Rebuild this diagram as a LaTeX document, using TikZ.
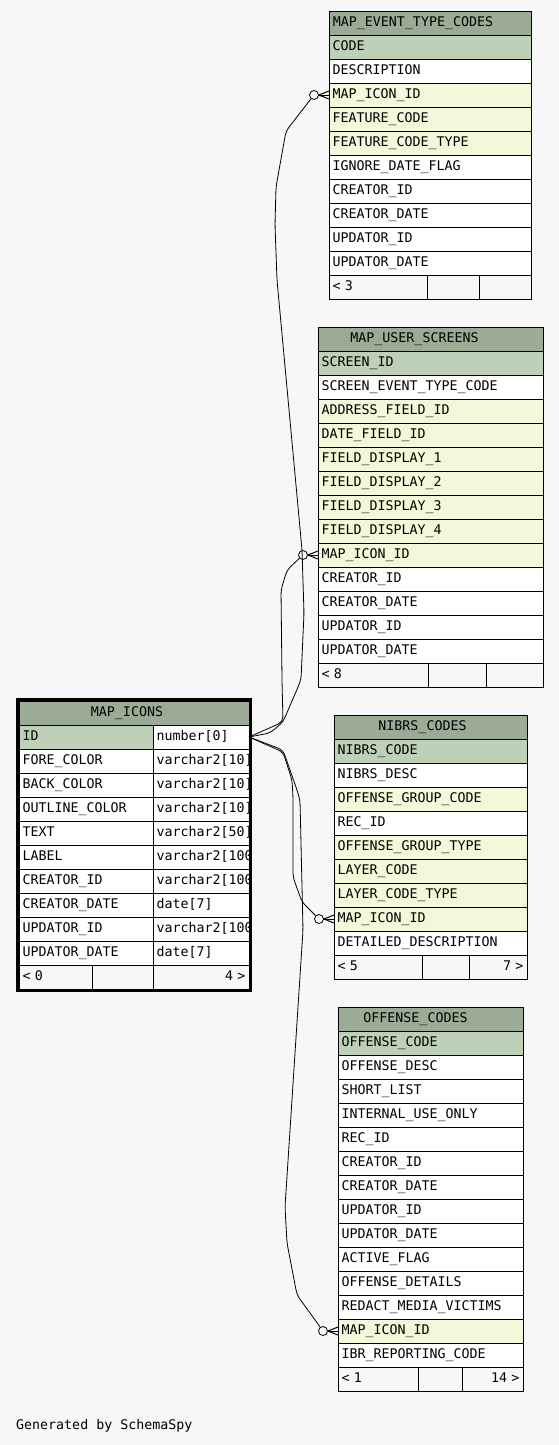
\documentclass[tikz,border=0pt]{standalone}
\usepackage{fontspec}
\usepackage{tikz}
\newfontfamily\schemafont[HyphenChar=None]{DejaVu Sans Mono}
\newcommand\erdfont{\schemafont\fontsize{13.3pt}{16pt}\selectfont}
\definecolor{pagebg}{HTML}{F7F7F7}
\definecolor{headbg}{HTML}{9BAB96}
\definecolor{keybg}{HTML}{BED1B8}
\definecolor{idxbg}{HTML}{F4F7DA}
\tikzset{
  cellbox/.style={draw, anchor=north west, minimum height=24pt, inner xsep=3.5pt, inner ysep=0pt,
    outer sep=0pt, text width=#1, align=left, text height=9.5pt, text depth=2.5pt},
  titletext/.style={inner sep=0pt, text height=9.5pt, text depth=2.5pt},
  odot/.style={circle, draw, line width=0.8pt, minimum size=9pt, inner sep=0pt},
  relline/.style={draw, line width=0.8pt, rounded corners=5pt},
  crowline/.style={draw, line width=1pt},
}

\begin{document}
\begin{tikzpicture}[x=1pt, y=-1pt, every node/.style={font=\erdfont}]
  \fill[pagebg] (0,0) rectangle (559,1445);
  \useasboundingbox (0,0) rectangle (559,1445);

  % MAP_EVENT_TYPE_CODES
  \node[cellbox=195pt, fill=headbg] (met-0) at (329,11) {};
  \node[titletext] (met-title) at ([xshift=-17pt]met-0.center) {MAP\_EVENT\_TYPE\_CODES};
  \foreach \bg/\col [count=\i] in {keybg/CODE, white/DESCRIPTION, idxbg/MAP\_ICON\_ID,
      idxbg/FEATURE\_CODE, idxbg/FEATURE\_CODE\_TYPE, white/IGNORE\_DATE\_FLAG,
      white/CREATOR\_ID, white/CREATOR\_DATE, white/UPDATOR\_ID, white/UPDATOR\_DATE}
    \node[cellbox=195pt, fill=\bg] (met-\i) at (329,11+24*\i) {\col};
  \node[cellbox=91pt, fill=pagebg] (met-f1) at (329,275) {< 3};
  \node[cellbox=45pt, fill=pagebg] (met-f2) at (427,275) {};
  \node[cellbox=45pt, fill=pagebg] (met-f3) at (479,275) {};

  % MAP_USER_SCREENS
  \node[cellbox=218pt, fill=headbg] (mus-0) at (318,327) {};
  \node[titletext] (mus-title) at ([xshift=-16pt]mus-0.center) {MAP\_USER\_SCREENS};
  \foreach \bg/\col [count=\i] in {keybg/SCREEN\_ID, white/SCREEN\_EVENT\_TYPE\_CODE,
      idxbg/ADDRESS\_FIELD\_ID, idxbg/DATE\_FIELD\_ID, idxbg/FIELD\_DISPLAY\_1,
      idxbg/FIELD\_DISPLAY\_2, idxbg/FIELD\_DISPLAY\_3, idxbg/FIELD\_DISPLAY\_4,
      idxbg/MAP\_ICON\_ID, white/CREATOR\_ID, white/CREATOR\_DATE, white/UPDATOR\_ID,
      white/UPDATOR\_DATE}
    \node[cellbox=218pt, fill=\bg] (mus-\i) at (318,327+24*\i) {\col};
  \node[cellbox=103pt, fill=pagebg] (mus-f1) at (318,663) {< 8};
  \node[cellbox=51pt, fill=pagebg] (mus-f2) at (428,663) {};
  \node[cellbox=50pt, fill=pagebg] (mus-f3) at (486,663) {};

  % NIBRS_CODES
  \node[cellbox=186pt, fill=headbg] (nib-0) at (334,715) {};
  \node[titletext] (nib-title) at ([xshift=-8pt]nib-0.center) {NIBRS\_CODES};
  \foreach \bg/\col [count=\i] in {keybg/NIBRS\_CODE, white/NIBRS\_DESC,
      idxbg/OFFENSE\_GROUP\_CODE, white/REC\_ID, idxbg/OFFENSE\_GROUP\_TYPE,
      idxbg/LAYER\_CODE, idxbg/LAYER\_CODE\_TYPE, idxbg/MAP\_ICON\_ID,
      white/DETAILED\_DESCRIPTION}
    \node[cellbox=186pt, fill=\bg] (nib-\i) at (334,715+24*\i) {\col};
  \node[cellbox=81pt, fill=pagebg] (nib-f1) at (334,955) {< 5};
  \node[cellbox=40pt, fill=pagebg] (nib-f2) at (422,955) {};
  \node[cellbox=51pt, fill=pagebg, align=right] (nib-f3) at (469,955) {7 >};

  % OFFENSE_CODES
  \node[cellbox=178pt, fill=headbg] (off-0) at (338,1007) {};
  \node[titletext] (off-title) at ([xshift=-15pt]off-0.center) {OFFENSE\_CODES};
  \foreach \bg/\col [count=\i] in {keybg/OFFENSE\_CODE, white/OFFENSE\_DESC,
      white/SHORT\_LIST, white/INTERNAL\_USE\_ONLY, white/REC\_ID, white/CREATOR\_ID,
      white/CREATOR\_DATE, white/UPDATOR\_ID, white/UPDATOR\_DATE, white/ACTIVE\_FLAG,
      white/OFFENSE\_DETAILS, white/REDACT\_MEDIA\_VICTIMS, idxbg/MAP\_ICON\_ID,
      white/IBR\_REPORTING\_CODE}
    \node[cellbox=178pt, fill=\bg] (off-\i) at (338,1007+24*\i) {\col};
  \node[cellbox=73pt, fill=pagebg] (off-f1) at (338,1367) {< 1};
  \node[cellbox=37pt, fill=pagebg] (off-f2) at (418,1367) {};
  \node[cellbox=54pt, fill=pagebg, align=right] (off-f3) at (462,1367) {14 >};

  % MAP_ICONS (the selected table)
  \begin{scope}
    \clip (19,701) rectangle (249.5,989);
    \node[cellbox=223pt, fill=headbg] (icons-0) at (19,701) {};
    \node[titletext] (icons-title) at ([xshift=-7pt]icons-0.center) {MAP\_ICONS};
    \node[cellbox=127pt, fill=keybg] (icons-1-name) at (19,725) {ID};
    \node[cellbox=89pt, fill=white] (icons-1-type) at (153,725) {number[0]};
    \foreach \col/\typ [count=\i from 2] in {FORE\_COLOR/varchar2[10],
        BACK\_COLOR/varchar2[10], OUTLINE\_COLOR/varchar2[10], TEXT/varchar2[50],
        LABEL/varchar2[100], CREATOR\_ID/varchar2[100], CREATOR\_DATE/date[7],
        UPDATOR\_ID/varchar2[100], UPDATOR\_DATE/date[7]}{
      \node[cellbox=127pt, fill=white] (icons-\i-name) at (19,701+24*\i) {\col};
      \node[cellbox=89pt, fill=white] (icons-\i-type) at (153,701+24*\i) {\typ};
    }
    \node[cellbox=66pt, fill=pagebg] (icons-f1) at (19,965) {< 0};
    \node[cellbox=54pt, fill=pagebg] (icons-f2) at (92,965) {};
    \node[cellbox=89pt, fill=pagebg, align=right] (icons-f3) at (153,965) {4 >};
  \end{scope}
  \draw[line width=3pt] (17.5,699.5) rectangle (250.3,990);

  % zero-or-many ends
  \node[odot] (met-odot) at ([xshift=-15pt]met-3.west) {};
  \node[odot] (mus-odot) at ([xshift=-15pt]mus-9.west) {};
  \node[odot] (nib-odot) at ([xshift=-15pt]nib-8.west) {};
  \node[odot] (off-odot) at ([xshift=-15pt]off-13.west) {};
  \foreach \dy in {-4,0,4}{
    \draw[crowline] (met-odot.east) -- ([yshift=\dy pt]met-3.west);
    \draw[crowline] (mus-odot.east) -- ([yshift=\dy pt]mus-9.west);
    \draw[crowline] (nib-odot.east) -- ([yshift=\dy pt]nib-8.west);
    \draw[crowline] (off-odot.east) -- ([yshift=\dy pt]off-13.west);
  }

  % relationships from MAP_ICONS.ID
  \draw[relline] (icons-1-type.east) -- (270,733) -- (283,722) -- (301,680) -- (304,613)
    -- (302,550) -- (277,280) -- (275,225) -- (276,187) -- (286,131) -- (met-odot);
  \draw[relline] (icons-1-type.east) -- (283,722) -- (282,680) -- (281,590) -- (287,570)
    -- (mus-odot);
  \draw[relline] (icons-1-type.east) -- (283,752) -- (292,780) -- (293,797) -- (293,877)
    -- (302,902) -- (nib-odot);
  \draw[relline] (icons-1-type.east) -- (283,750) -- (297,790) -- (300,800) -- (303,930)
    -- (285,1207) -- (287,1243) -- (297,1295) -- (off-odot);

  \node[anchor=base west, inner sep=0pt] (credit) at (16,1429) {Generated by SchemaSpy};
\end{tikzpicture}
\end{document}
